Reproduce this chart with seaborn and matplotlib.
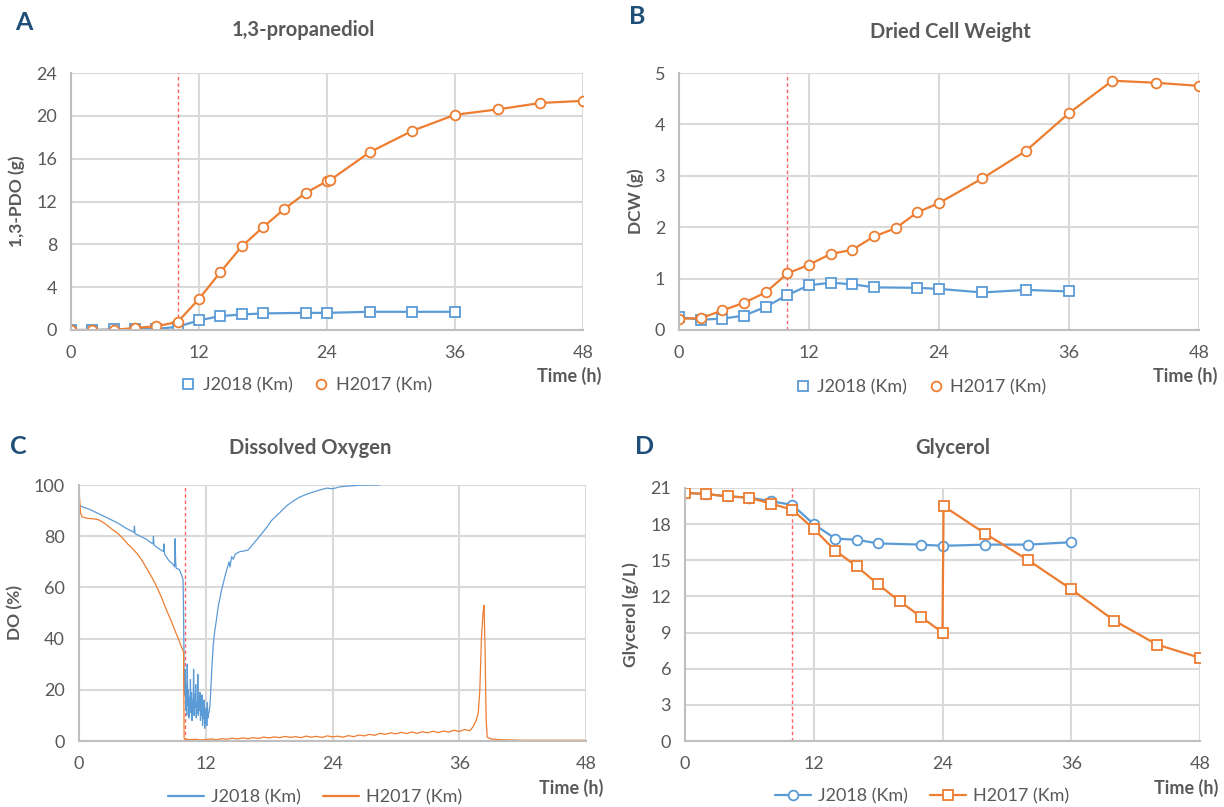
import numpy as np
import pandas as pd
import matplotlib
matplotlib.use("Agg")
import matplotlib.pyplot as plt
from matplotlib.lines import Line2D
import seaborn as sns

sns.set_theme(style="white")
plt.rcParams['font.family'] = ['Lato', 'DejaVu Sans']

BLUE = "#5B9BD5"
ORANGE = "#ED7D31"
GRID = "#D9D9D9"
TXT = "#595959"
LETTER = "#1F4E79"

# ---------------- Panel A: 1,3-propanediol ----------------
pdo_j_time = [0, 2, 4, 6, 8, 10, 12, 14, 16, 18, 22, 24, 28, 32, 36]
pdo_j_val = [0, 0, 0.05, 0.1, 0.1, 0.3, 0.9, 1.3, 1.45, 1.55, 1.6, 1.6, 1.7, 1.7, 1.7]
pdo_h_time = [0, 2, 4, 6, 8, 10, 12, 14, 16, 18, 20, 22, 24, 24.3, 28, 32, 36, 40, 44, 48]
pdo_h_val = [0, 0, 0, 0.2, 0.35, 0.75, 2.9, 5.4, 7.8, 9.6, 11.3, 12.8, 13.9, 14.0,
             16.6, 18.6, 20.1, 20.6, 21.2, 21.4]

# ---------------- Panel B: Dried cell weight ----------------
dcw_j_time = [0, 2, 4, 6, 8, 10, 12, 14, 16, 18, 22, 24, 28, 32, 36]
dcw_j_val = [0.25, 0.2, 0.22, 0.28, 0.45, 0.68, 0.87, 0.92, 0.89, 0.83, 0.82, 0.8, 0.73, 0.78, 0.75]
dcw_h_time = [0, 2, 4, 6, 8, 10, 12, 14, 16, 18, 20, 22, 24, 28, 32, 36, 40, 44, 48]
dcw_h_val = [0.22, 0.23, 0.38, 0.53, 0.73, 1.1, 1.27, 1.48, 1.56, 1.82, 1.98, 2.29, 2.47,
             2.95, 3.48, 4.22, 4.85, 4.81, 4.75]

# ---------------- Panel C: Dissolved oxygen ----------------
do_j_time = [0.0, 0.05, 0.3, 1.0, 1.5, 2.0, 2.5, 3.0, 3.5, 4.0, 4.5, 5.0, 5.2, 5.25, 5.3, 5.8,
             6.3, 6.8, 7.0, 7.05, 7.1, 7.6, 8.0, 8.05, 8.1, 8.5, 8.9, 9.05, 9.1, 9.15, 9.2,
             9.5, 9.7, 9.85, 9.9, 9.95, 10.0,
             10.05, 10.1, 10.15, 10.2, 10.25, 10.3, 10.35, 10.4, 10.45, 10.5, 10.55, 10.6,
             10.65, 10.7, 10.75, 10.8, 10.85, 10.9, 10.95, 11.0, 11.05, 11.1, 11.15, 11.2,
             11.25, 11.3, 11.35, 11.4, 11.45, 11.5, 11.55, 11.6, 11.65, 11.7, 11.75, 11.8,
             11.85, 11.9, 11.95, 12.0, 12.05, 12.1, 12.15, 12.2, 12.3, 12.4, 12.5, 12.6,
             12.7, 12.85, 13.0, 13.2, 13.5, 13.8, 14.0, 14.2, 14.3, 14.45, 14.6, 14.8, 15.0,
             15.25, 15.6, 16.0, 16.4, 16.8, 17.3, 17.8, 18.2, 18.7, 19.2, 19.7, 20.3, 20.9,
             21.5, 22.2, 23.0, 23.5, 24.0, 24.7, 25.5, 26.5, 27.5, 28.5]
do_j_val = [95, 92, 91.5, 90.5, 89.5, 88.5, 87.5, 86.5, 85.5, 84.3, 83, 82, 81.5, 84, 81, 80,
            79, 77.5, 77, 80, 76.5, 75, 74, 77, 73, 70.5, 69, 68, 79, 70, 67.5,
            67, 65, 63, 50, 25, 18,
            28, 12, 22, 10, 30, 14, 20, 9, 17, 13, 24, 11,
            19, 8, 16, 12, 28, 10, 18, 13, 22, 9, 15, 11,
            26, 10, 17, 12, 19, 8, 15, 10, 18, 6, 14, 9,
            16, 5, 12, 7, 13, 6, 15, 9, 11, 14, 22, 30,
            37, 43, 47, 53, 59, 64, 67, 70, 68, 72, 71, 73, 73.5,
            74, 74.2, 74.6, 76.5, 78.5, 81, 83.6, 86, 88, 90, 92, 93.8, 95.3,
            96.3, 97.3, 98.3, 98.8, 98.5, 99.3, 99.6, 99.9, 100, 100]
do_h_time = [0.0, 0.05, 0.15, 0.3, 0.8, 1.3, 1.8, 2.25, 2.75, 3.2, 3.7, 4.1, 4.6, 5.1, 5.6,
             6.0, 6.5, 7.0, 7.5, 7.9, 8.3, 8.7, 9.1, 9.4, 9.7, 9.9, 9.95, 10.0,
             10.5, 11, 11.5, 12, 12.5, 13, 13.5, 14, 14.5, 15, 15.5, 16, 16.5, 17, 17.5,
             18, 18.5, 19, 19.5, 20, 20.5, 21, 21.5, 22, 22.5, 23, 23.5, 24, 24.5, 25,
             25.5, 26, 26.5, 27, 27.5, 28, 28.5, 29, 29.5, 30, 30.5, 31, 31.5, 32, 32.5,
             33, 33.5, 34, 34.5, 35, 35.5, 36, 36.5, 37, 37.3, 37.6, 37.8, 37.95, 38.1,
             38.25, 38.35, 38.45, 38.5, 38.55, 38.65, 39, 39.9, 42, 48]
do_h_val = [100, 95, 89, 87.5, 87, 86.8, 86.5, 85.5, 84, 82.5, 81, 79.4, 77, 75, 72.7,
            70.3, 66.8, 63.2, 59, 55.2, 51, 47.2, 43, 40, 36.8, 34.8, 1, 0.8,
            0.5, 0.7, 0.4, 0.6, 0.8, 0.5, 0.9, 0.7, 1.1, 0.8, 1.2, 0.9, 1.3, 1.0, 1.5,
            1.2, 1.6, 1.3, 1.8, 1.4, 1.7, 1.3, 1.9, 1.5, 1.8, 1.4, 2.0, 1.6, 1.9, 1.5,
            2.1, 1.7, 2.3, 2.0, 2.6, 2.2, 3.0, 2.6, 3.2, 2.8, 3.4, 2.9, 3.5, 3.0, 3.6,
            3.2, 3.8, 3.3, 3.9, 3.5, 4.2, 3.7, 4.5, 4.0, 5.5, 8, 11, 20, 40,
            50, 53, 35, 20, 8, 1.5, 0.8, 0.5, 0.3, 0.3]

# ---------------- Panel D: Glycerol ----------------
gly_j_time = [0, 2, 4, 6, 8, 10, 12, 14, 16, 18, 22, 24, 28, 32, 36]
gly_j_val = [20.6, 20.5, 20.3, 20.2, 19.9, 19.6, 18.0, 16.8, 16.7, 16.4, 16.3, 16.2, 16.3, 16.3, 16.5]
gly_h_time = [0, 2, 4, 6, 8, 10, 12, 14, 16, 18, 20, 22, 24, 24.1, 28, 32, 36, 40, 44, 48]
gly_h_val = [20.6, 20.5, 20.3, 20.2, 19.7, 19.2, 17.6, 15.8, 14.5, 13.0, 11.6, 10.3, 9.0,
             19.5, 17.2, 15.0, 12.6, 10.0, 8.0, 6.9]

time_ticks = [0, 12, 24, 36, 48]
induction_time = 10
series_names = ["J2018 (Km)", "H2017 (Km)"]

W, H = 1224, 807
fig = plt.figure(figsize=(W / 100, H / 100), dpi=100)


def axes_px(left, right, top, bottom):
    return fig.add_axes([left / W, 1 - bottom / H, (right - left) / W, (bottom - top) / H])


def style(ax, ymax, ystep, ylabel, time_y):
    ax.set_xlim(0, 48)
    ax.set_ylim(0, ymax)
    ax.set_xticks(time_ticks)
    ax.set_yticks(np.arange(0, ymax + 1e-9, ystep))
    ax.grid(True, color=GRID, lw=1.5)
    ax.set_axisbelow(True)
    for s in ["top", "right"]:
        ax.spines[s].set_visible(False)
    for s in ["left", "bottom"]:
        ax.spines[s].set_color("#BFBFBF")
        ax.spines[s].set_linewidth(1.5)
    ax.tick_params(axis="both", length=0, labelsize=13, labelcolor=TXT)
    ax.tick_params(axis="x", pad=11)
    ax.tick_params(axis="y", pad=10)
    ax.set_xlabel("")
    ax.set_ylabel(ylabel, fontsize=12.5, fontweight="bold", color=TXT, labelpad=8)
    ax.axvline(induction_time, color="#FF3B3B", lw=1.0, ls=(0, (2.5, 2)), alpha=0.8, zorder=1)
    ax.text(1.035, time_y, "Time (h)", transform=ax.transAxes, ha="right", va="center",
            fontsize=13, fontweight="bold", color=TXT)


def mline(ax, x, y, color, marker, show_marker=True, lw=1.6):
    df = pd.DataFrame({"t": x, "v": y})
    kw = {}
    if show_marker:
        kw = dict(marker=marker, markersize=7, markerfacecolor="white",
                  markeredgecolor=color, markeredgewidth=1.3)
    sns.lineplot(data=df, x="t", y="v", ax=ax, color=color, lw=lw, estimator=None,
                 sort=False, legend=False, **kw)


# Panel A
axA = axes_px(71, 583, 73, 330)
mline(axA, pdo_j_time, pdo_j_val, BLUE, "s")
mline(axA, pdo_h_time, pdo_h_val, ORANGE, "o")
style(axA, 24, 4, "1,3-PDO (g)", -0.178)

# Panel B
axB = axes_px(679, 1199, 73, 330)
mline(axB, dcw_j_time, dcw_j_val, BLUE, "s")
mline(axB, dcw_h_time, dcw_h_val, ORANGE, "o")
style(axB, 5, 1, "DCW (g)", -0.178)

# Panel C
axC = axes_px(79, 586, 485, 741)
mline(axC, do_j_time, do_j_val, BLUE, None, show_marker=False, lw=0.9)
mline(axC, do_h_time, do_h_val, ORANGE, None, show_marker=False, lw=0.9)
style(axC, 100, 20, "DO (%)", -0.185)

# Panel D
axD = axes_px(685, 1200, 488, 741)
mline(axD, gly_j_time, gly_j_val, BLUE, "o")
mline(axD, gly_h_time, gly_h_val, ORANGE, "s")
style(axD, 21, 3, "Glycerol (g/L)", -0.185)


def mk_handle(color, marker, line):
    return Line2D([], [], color=color, lw=1.6 if line else 0,
                  marker=marker if marker else None, markersize=7,
                  markerfacecolor="white", markeredgecolor=color, markeredgewidth=1.3)


legend_kw = dict(ncol=2, frameon=False, fontsize=13, labelcolor=TXT,
                 loc="center", handletextpad=0.4, columnspacing=1.2)

axA.legend([mk_handle(BLUE, "s", False), mk_handle(ORANGE, "o", False)], series_names,
           bbox_to_anchor=(0.46, -0.215), handlelength=0.8, **legend_kw)
axB.legend([mk_handle(BLUE, "s", False), mk_handle(ORANGE, "o", False)], series_names,
           bbox_to_anchor=(0.465, -0.222), handlelength=0.8, **legend_kw)
axC.legend([mk_handle(BLUE, None, True), mk_handle(ORANGE, None, True)], series_names,
           bbox_to_anchor=(0.466, -0.22), handlelength=2.0, **legend_kw)
axD.legend([mk_handle(BLUE, "o", True), mk_handle(ORANGE, "s", True)], series_names,
           bbox_to_anchor=(0.46, -0.22), handlelength=2.0, **legend_kw)

# Titles
title_kw = dict(ha="center", va="center", fontsize=14.5, fontweight="bold", color=TXT)
fig.text(303 / W, 1 - 30 / H, "1,3-propanediol", **title_kw)
fig.text(950 / W, 1 - 32 / H, "Dried Cell Weight", **title_kw)
fig.text(310 / W, 1 - 448 / H, "Dissolved Oxygen", **title_kw)
fig.text(953 / W, 1 - 448 / H, "Glycerol", **title_kw)

# Panel letters
letter_kw = dict(ha="center", va="center", fontsize=18, fontweight="bold", color=LETTER)
fig.text(24 / W, 1 - 22 / H, "A", **letter_kw)
fig.text(637 / W, 1 - 17 / H, "B", **letter_kw)
fig.text(18 / W, 1 - 446 / H, "C", **letter_kw)
fig.text(645 / W, 1 - 446 / H, "D", **letter_kw)

fig.savefig("out.png", dpi=100, facecolor="white")
